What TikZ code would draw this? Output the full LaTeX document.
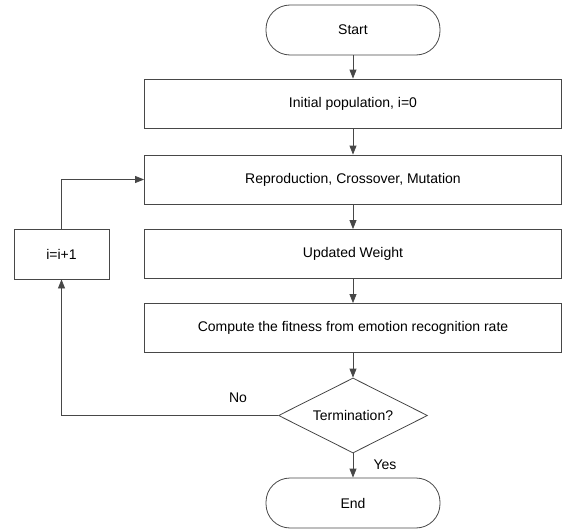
\documentclass[tikz,border=0pt]{standalone}
\usepackage{fontspec}
\setmainfont{Liberation Sans}
\usetikzlibrary{shapes.geometric,arrows.meta}
\begin{document}
\begin{tikzpicture}[x=1pt,y=-1pt,
  line/.style={draw=black!72, line width=0.8pt},
  box/.style={line, rectangle, minimum width=417pt, minimum height=49pt, inner sep=0pt},
  smallbox/.style={line, rectangle, minimum width=95pt, minimum height=50pt, inner sep=0pt},
  pill/.style={line, rectangle, rounded corners=24pt, minimum width=174pt, minimum height=50pt, inner sep=0pt},
  decision/.style={line, diamond, aspect=2, minimum width=149pt, minimum height=75pt, inner sep=0pt},
  conn/.style={line, -{Triangle[length=9pt,width=7pt]}},
  lbl/.style={inner sep=0pt},
  font=\fontsize{14}{16}\selectfont]
\useasboundingbox (0,0) rectangle (566,530);
\node[pill] (start) at (353,30) {Start};
\node[box] (init) at (353,103.5) {Initial population, i=0};
\node[box] (repro) at (353,179.5) {Reproduction, Crossover, Mutation};
\node[box] (upd) at (353,254) {Updated Weight};
\node[box] (comp) at (353,328) {Compute the fitness from emotion recognition rate};
\node[decision] (term) at (353,415.5) {Termination?};
\node[pill] (end) at (353,503) {End};
\node[smallbox] (inc) at (61.5,254) {i=i+1};
\draw[conn] (start.south) -- (init.north);
\draw[conn] (init.south) -- (repro.north);
\draw[conn] (repro.south) -- (upd.north);
\draw[conn] (upd.south) -- (comp.north);
\draw[conn] (comp.south) -- (term.north);
\draw[conn] (term.south) -- (end.north);
\draw[conn] (term.west) -| (inc.south);
\draw[conn] (inc.north) |- (repro.west);
\node[lbl] (no) at (238,398) {No};
\node[lbl] (yes) at (385,465) {Yes};
\end{tikzpicture}
\end{document}
